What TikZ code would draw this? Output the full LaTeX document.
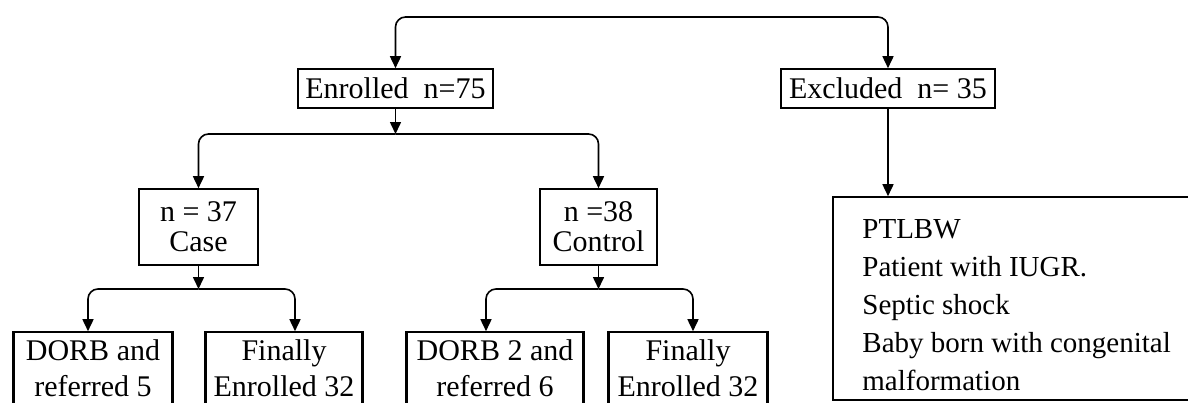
\documentclass[tikz,border=0pt]{standalone}
\usepackage{fontspec}
\setmainfont{Liberation Serif}
\usetikzlibrary{arrows.meta}
\begin{document}
\begin{tikzpicture}[x=0.5pt,y=-0.5pt,
  box/.style={draw=black, line width=0.8pt, inner sep=0pt, align=center, font=\fontsize{15}{15}\selectfont},
  lowbox/.style={box, font=\fontsize{15}{18}\selectfont},
  conn/.style={draw=black, line width=0.8pt, rounded corners=5pt},
  arr/.style={conn, -{Triangle[length=6pt,width=5.5pt]}}]
\useasboundingbox (0,0) rectangle (1188,402);
\clip (0,0) rectangle (1188,402);
\fill[white] (0,0) rectangle (1188,402);
% level 1
\node[box, minimum width=97.5pt, minimum height=19.5pt] (enrolled) at (395.5,88.5) {Enrolled\ \ n=75};
\node[box, minimum width=107pt, minimum height=19.5pt] (excluded) at (888,88.5) {Excluded\ \ n=\ 35};
% level 2
\node[box, minimum width=59.5pt, minimum height=38pt] (case) at (198.5,227) {n = 37\\Case};
\node[box, minimum width=58.5pt, minimum height=38pt] (control) at (598.5,227) {n =38\\Control};
% level 3
\node[lowbox, minimum width=79pt, minimum height=36pt] (dorb1) at (93,368) {DORB and\\referred 5};
\node[lowbox, minimum width=78pt, minimum height=36pt] (fin1) at (284,368) {Finally\\Enrolled 32};
\node[lowbox, minimum width=88pt, minimum height=36pt] (dorb2) at (495,368) {DORB 2 and\\referred 6};
\node[lowbox, minimum width=79pt, minimum height=36pt] (fin2) at (688,368) {Finally\\Enrolled 32};
\coordinate (cutl) at (0,420);
\draw[line width=0.8pt] (dorb1.north west) -- (dorb1.north west |- cutl) (dorb1.north east) -- (dorb1.north east |- cutl);
\draw[line width=0.8pt] (fin1.north west) -- (fin1.north west |- cutl) (fin1.north east) -- (fin1.north east |- cutl);
\draw[line width=0.8pt] (dorb2.north west) -- (dorb2.north west |- cutl) (dorb2.north east) -- (dorb2.north east |- cutl);
\draw[line width=0.8pt] (fin2.north west) -- (fin2.north west |- cutl) (fin2.north east) -- (fin2.north east |- cutl);
% exclusion list
\node[draw=black, line width=0.8pt, inner sep=0pt, minimum width=198.5pt, minimum height=101.5pt] (exbox) at (1031.5,298.5) {};
\node[anchor=north west, align=left, inner sep=0pt, font=\fontsize{14.5}{19}\selectfont] (exlist) at (862,219) {PTLBW\\Patient with IUGR.\\Septic shock\\Baby born with congenital\\malformation};
% connectors
\coordinate (top) at (643,17);
\draw[arr] (top) -| (enrolled.north);
\draw[arr] (top) -| (excluded.north);
\coordinate (s1) at (395.5,134);
\draw[arr] (enrolled.south) -- (s1);
\draw[arr] (s1) -| (case.north);
\draw[arr] (s1) -| (control.north);
\coordinate (s2) at (198.5,289);
\draw[arr] (case.south) -- (s2);
\draw[arr] (s2) -| ([xshift=-2.5pt]dorb1.north);
\draw[arr] (s2) -| ([xshift=5.5pt]fin1.north);
\coordinate (s3) at (598.5,289);
\draw[arr] (control.south) -- (s3);
\draw[arr] (s3) -| ([xshift=-4.5pt]dorb2.north);
\draw[arr] (s3) -| ([xshift=2.5pt]fin2.north);
\draw[arr] (excluded.south) -- (excluded.south |- exbox.north);
\end{tikzpicture}
\end{document}
